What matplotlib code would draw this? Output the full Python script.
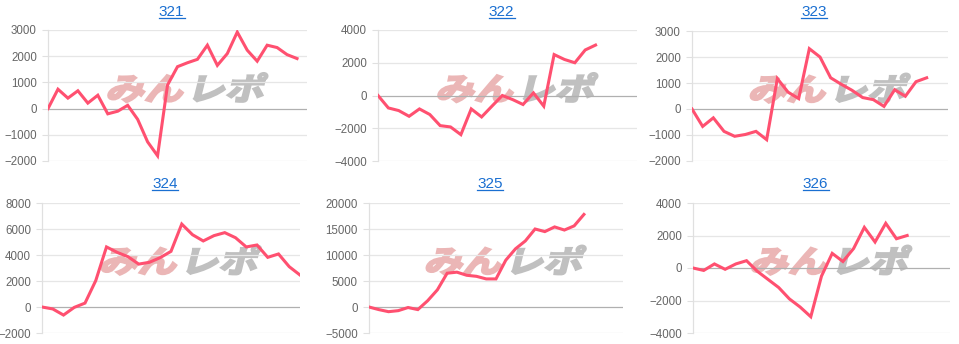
import matplotlib
matplotlib.use("Agg")
import matplotlib.pyplot as plt
from matplotlib.font_manager import FontProperties
from matplotlib.textpath import TextPath
from matplotlib.patches import PathPatch
from matplotlib.transforms import Affine2D, IdentityTransform
from matplotlib.lines import Line2D

# machine numbers and their daily cumulative values
titles = ["321", "322", "323", "324", "325", "326"]

v321 = [0, 740, 400, 680, 210, 510, -200, -100, 125, -410, -1270, -1800, 900,
        1600, 1750, 1880, 2420, 1650, 2100, 2920, 2230, 1810, 2420, 2330, 2060, 1910]
v322 = [0, -760, -920, -1270, -820, -1160, -1840, -1920, -2390, -820, -1310, -650,
        0, -250, -550, 160, -650, 2500, 2200, 2000, 2780, 3080]
v323 = [0, -670, -340, -860, -1050, -980, -860, -1180, 1170, 650, 400, 2320, 2000,
        1200, 950, 720, 440, 360, 100, 740, 490, 1050, 1200]
v324 = [0, -150, -620, -30, 300, 2030, 4620, 4200, 3870, 3300, 3440, 3800, 4280,
        6380, 5560, 5080, 5490, 5720, 5330, 4620, 4770, 3820, 4080, 3100, 2460]
v325 = [0, -500, -900, -700, -100, -500, 1200, 3300, 6500, 6700, 6100, 5900, 5400,
        5400, 9000, 11200, 12700, 15000, 14500, 15400, 14800, 15600, 17800]
v326 = [0, -150, 250, -80, 250, 450, -200, -700, -1200, -1900, -2400, -3000, -500,
        900, 400, 1200, 2500, 1600, 2750, 1800, 2000]
series = [v321, v322, v323, v324, v325, v326]

# number of day slots on each x axis
x_slots = [26, 25, 24, 24, 26, 24]
y_ranges = [(-2000, 3000, 1000), (-4000, 4000, 2000), (-2000, 3000, 1000),
            (-2000, 8000, 2000), (-5000, 20000, 5000), (-4000, 4000, 2000)]

# plot boxes in pixels: left, top, right, bottom
boxes = [(48, 30, 307, 161), (378, 30, 637, 161), (692, 31, 948, 161),
         (42, 203, 300, 333), (369, 203, 623, 333), (693, 203, 950, 333)]

W, H = 959, 344
LINE = "#ff5070"
plt.rcParams["font.family"] = ["Liberation Sans", "DejaVu Sans"]

fig = plt.figure(figsize=(W / 100, H / 100), dpi=100)
wm_font = FontProperties(family=["Noto Sans CJK JP"], weight="bold")


def watermark(ax):
    cx, cy = ax.transAxes.transform((0.54, 0.56))
    parts = [("みん", "#ebb6b6"), ("レポ", "#c0c0c0")]
    paths = []
    x = 0
    for txt, col in parts:
        p = TextPath((x, 0), txt, prop=wm_font, size=31)
        paths.append((p, col))
        x = p.get_extents().x1 + 4
    tf = Affine2D().scale(1.25, 1.0).skew_deg(14, 0)
    allx = []
    ally = []
    for p, _ in paths:
        e = tf.transform_path(p).get_extents()
        allx += [e.x0, e.x1]
        ally += [e.y0, e.y1]
    ox = cx - (min(allx) + max(allx)) / 2
    oy = cy - (min(ally) + max(ally)) / 2
    full = tf + Affine2D().translate(ox, oy)
    for p, col in paths:
        patch = PathPatch(full.transform_path(p), facecolor=col, edgecolor=col,
                          lw=1.6, transform=IdentityTransform(), zorder=1)
        fig.patches.append(patch)


for i in range(6):
    l, t, r, b = boxes[i]
    ax = fig.add_axes([l / W, 1 - b / H, (r - l) / W, (b - t) / H])
    lo, hi, step = y_ranges[i]
    ticks = list(range(lo, hi + 1, step))
    ax.set_ylim(lo, hi)
    ax.set_xlim(0, x_slots[i])
    ax.set_yticks(ticks)
    ax.set_xticks([])
    for tk in ticks:
        ax.axhline(tk, color="#b0b0b0" if tk == 0 else "#e6e6e6", lw=0.9, zorder=0.5)
    ax.tick_params(axis="y", length=4, width=0.8, color="#e0e0e0", pad=4,
                   labelsize=8.3, labelcolor="#666666")
    for s in ["top", "right", "bottom"]:
        ax.spines[s].set_visible(False)
    ax.spines["left"].set_color("#e0e0e0")
    ax.spines["left"].set_linewidth(0.9)
    ax.patch.set_alpha(0)
    ax.plot(range(len(series[i])), series[i], color=LINE, lw=2.2, zorder=3,
            solid_joinstyle="miter")
    ax.set_zorder(2)

    watermark(ax)

    # title link with underline
    tx = l + 0.477 * (r - l)
    ty = (0 if i < 3 else 172) + 16
    fig.text(tx / W, 1 - ty / H, titles[i], ha="center", va="baseline",
             fontsize=11, color="#1a6fd1")
    fig.add_artist(Line2D([(tx - 13) / W, (tx + 13) / W],
                          [1 - (ty + 1.8) / H, 1 - (ty + 1.8) / H],
                          color="#1a6fd1", lw=0.9))

fig.savefig("out.png", dpi=100)
